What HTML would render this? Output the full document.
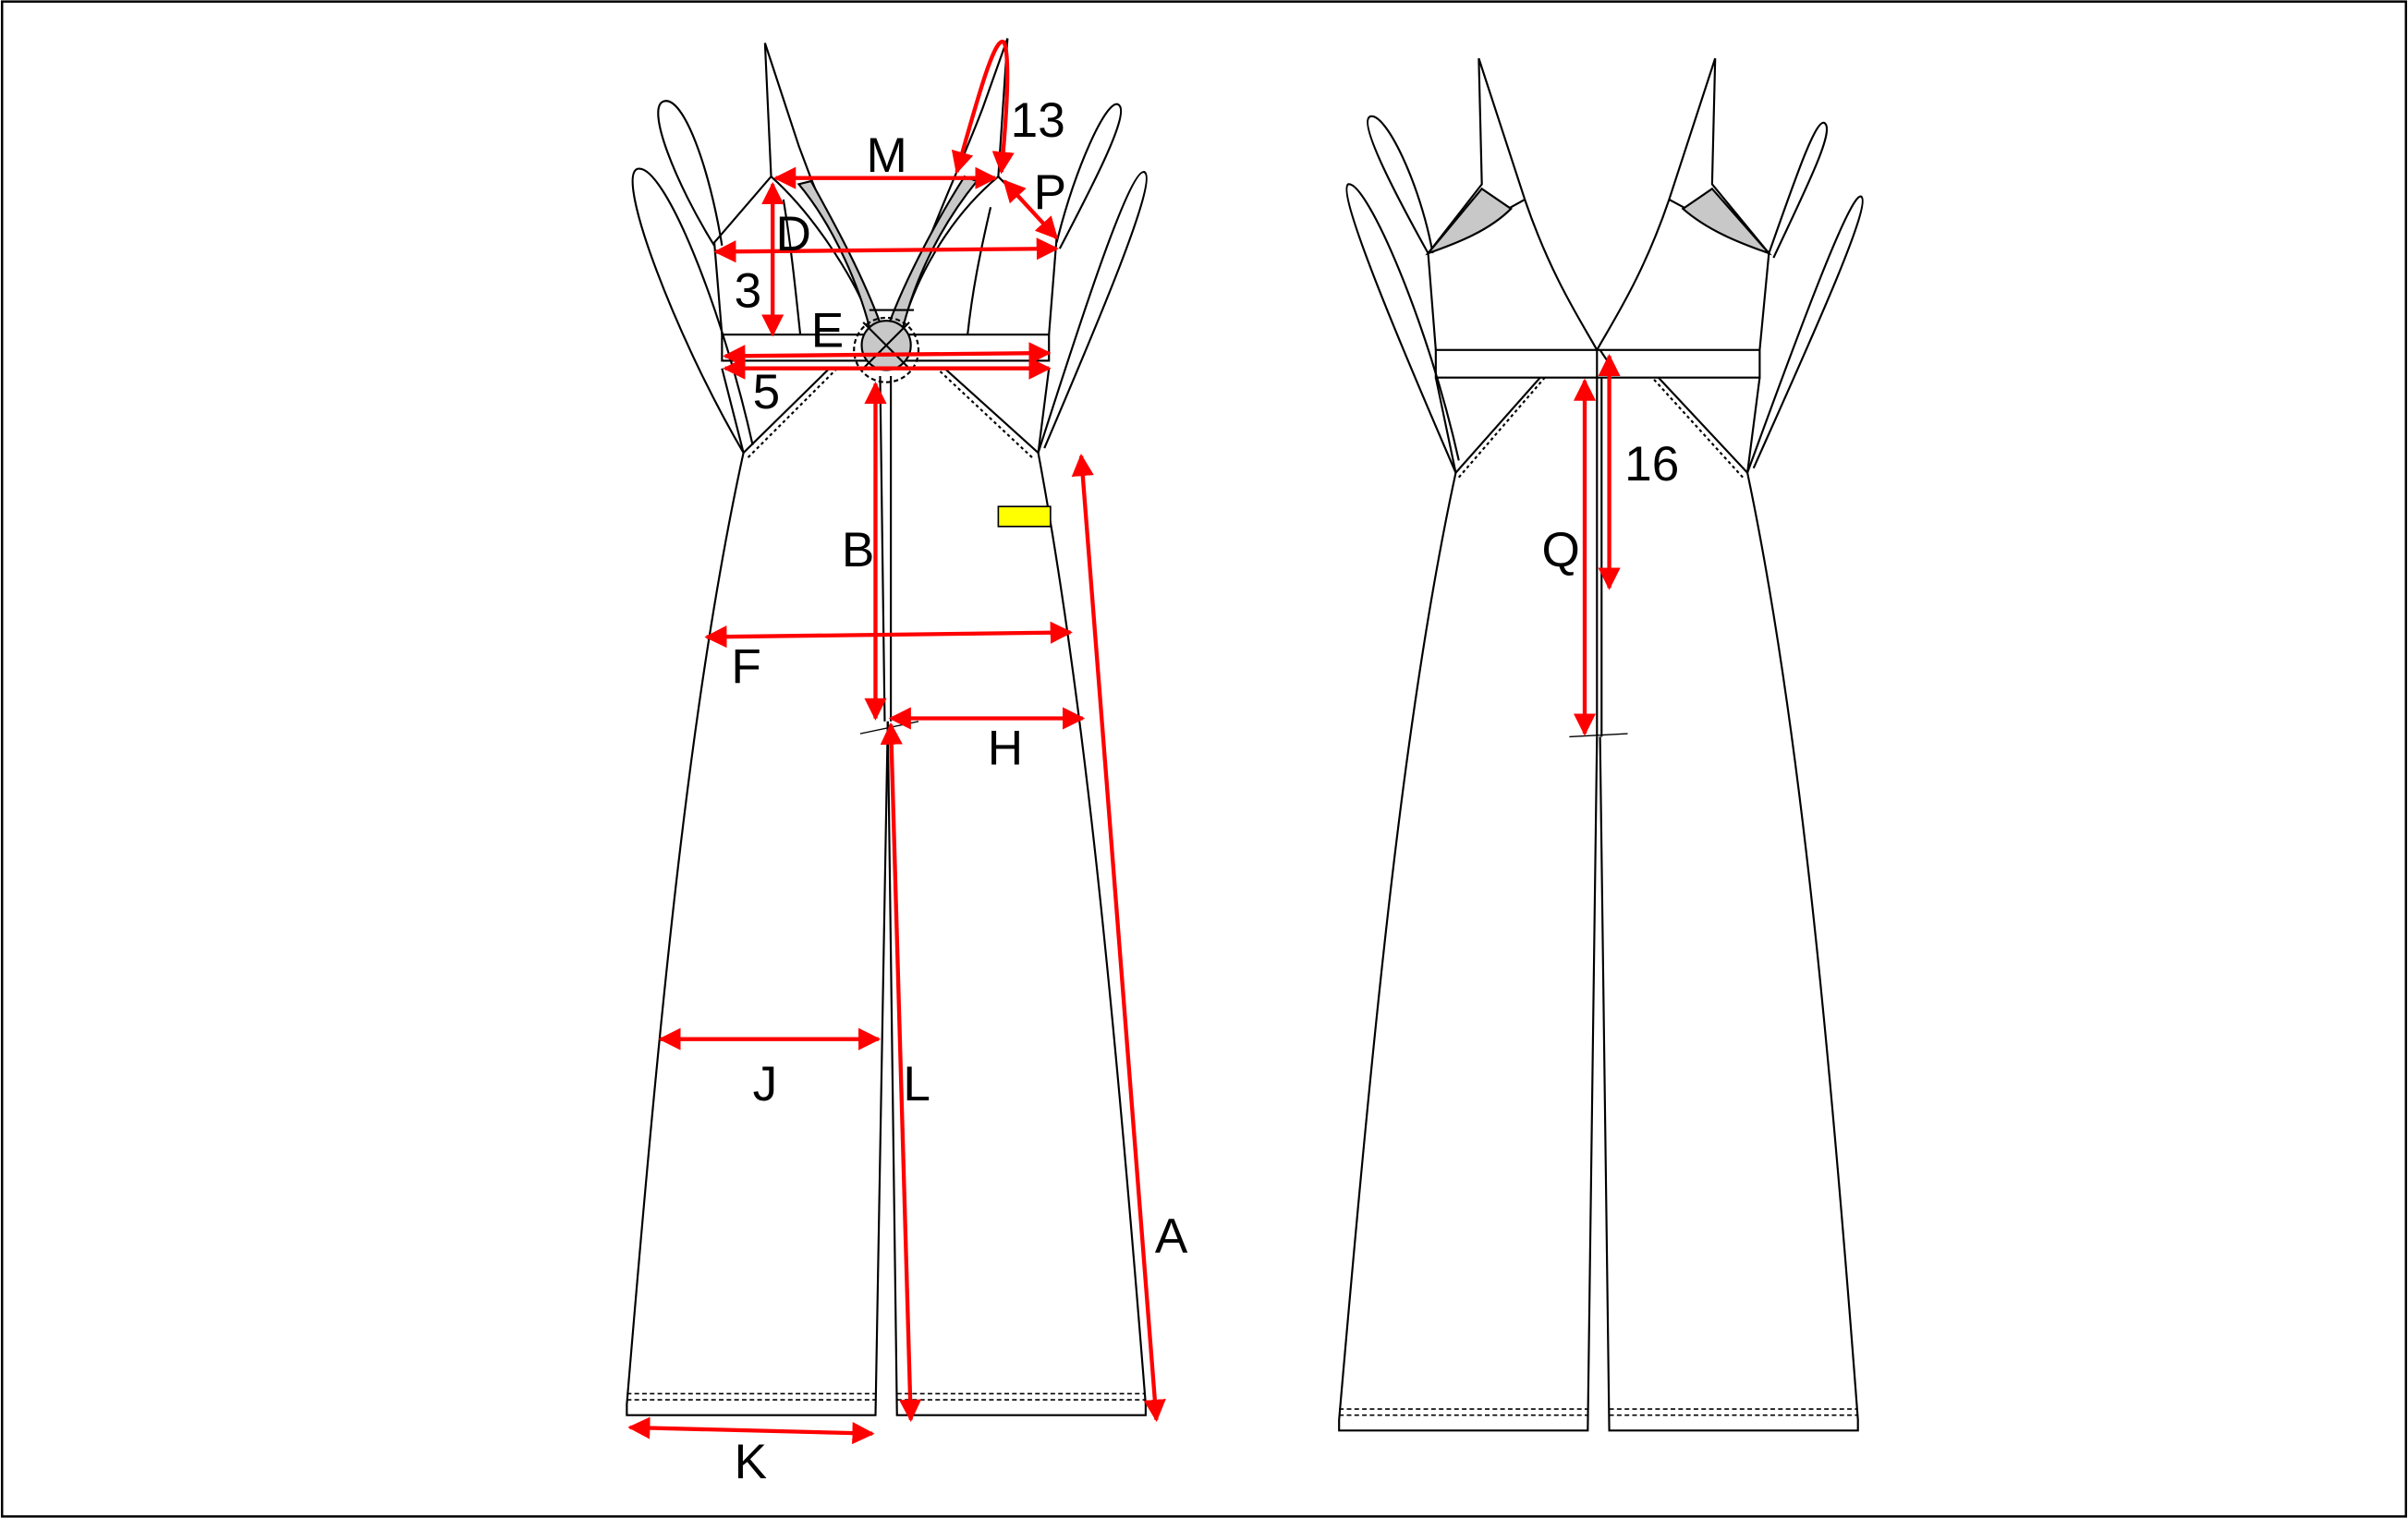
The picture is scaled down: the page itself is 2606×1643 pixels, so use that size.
<!DOCTYPE html>
<html><head><meta charset="utf-8"><style>
html,body{margin:0;padding:0;background:#fff;}
svg{display:block;}
text{font-family:"Liberation Sans",sans-serif;font-size:32px;fill:#000;}
</style></head><body>
<svg width="2606" height="1643" viewBox="0 0 1568 989" xmlns="http://www.w3.org/2000/svg">
<defs>
<marker id="a" viewBox="0 0 10 10" refX="9" refY="5" markerWidth="5.6" markerHeight="5.6" orient="auto-start-reverse" markerUnits="strokeWidth"><path d="M0,0 L10,5 L0,10 z" fill="#f00"/></marker>
</defs>
<rect x="1" y="1" width="1566" height="987" fill="#fff" stroke="#000" stroke-width="1.5"/>
<g fill="none" stroke="#000" stroke-width="1.3">
<!-- FRONT -->
<path d="M465,160 C440,120 420,70 432,66 C445,62 462,110 470,160"/>
<path d="M484,295 C440,220 400,115 415,110 C432,106 470,200 490,290"/>
<path d="M688,158 C700,110 720,65 728,68 C737,72 712,120 690,162"/>
<path d="M676,295 C700,220 735,110 745,112 C755,116 715,210 680,292"/>
<path d="M498,28 L502,115 L465,158 L470,218"/>
<path d="M498,28 L520,95 C540,150 560,190 572,215"/>
<path d="M656,25 L650,115 L688,155 L683,218"/>
<path d="M656,25 L640,70 C625,110 600,160 585,215"/>
<path d="M502,115 C530,140 555,180 565,205" />
<path d="M650,115 C620,140 600,175 590,205" />
<path d="M520,120 C545,150 560,190 566,213 L574,213 C560,175 540,140 528,118 Z" fill="#c8c8c8"/>
<path d="M636,118 C610,150 595,185 588,213 L578,213 C590,180 612,140 628,115 Z" fill="#c8c8c8"/>
<path d="M510,130 C515,160 518,190 521,218"/>
<path d="M645,135 C638,165 633,190 630,218"/>
<rect x="470" y="218" width="213" height="17" fill="none"/>
<path d="M566,202 L595,202"/>
<circle cx="577" cy="225" r="16" fill="#c8c8c8"/>
<circle cx="577" cy="228" r="21" stroke-dasharray="3,2"/>
<path d="M562,210 L592,240 M592,210 L562,240"/>
<path d="M470,240 L484,295 L540,240 M683,240 L676,295 L615,240"/>
<path d="M487,298 L545,240 M672,298 L610,240" stroke-dasharray="2,2"/>
<path d="M484,295 C450,450 430,650 408,915 L408,922 L570,922 L578,470"/>
<path d="M676,295 C705,450 725,650 746,915 L746,922 L584,922 L578,470"/>
<path d="M408,908 L570,908 M408,912 L570,912 M584,908 L746,908 M584,912 L746,912" stroke-dasharray="3,2" stroke-width="1"/>
<path d="M573,245 L576,470 M580,245 L580,470"/>
<path d="M560,478 L598,470" stroke-width="0.8"/>
<!-- BACK -->
<path d="M930,165 C905,120 885,80 892,76 C902,72 925,120 933,165"/>
<path d="M948,308 C910,220 870,125 878,120 C890,118 930,210 950,300"/>
<path d="M1152,165 C1168,120 1182,78 1188,80 C1196,84 1175,125 1155,168"/>
<path d="M1138,308 C1170,220 1205,125 1212,128 C1220,132 1180,220 1142,305"/>
<path d="M963,38 L965,120 L930,165 L935,228 M963,38 L993,130 C1010,180 1030,210 1040,228"/>
<path d="M1117,38 L1115,120 L1152,165 L1146,228 M1117,38 L1087,130 C1070,180 1050,210 1040,228"/>
<path d="M993,130 L930,165 M1087,130 L1152,165"/>
<path d="M965,123 L930,165 C950,158 970,150 984,136 Z" fill="#c8c8c8"/>
<path d="M1115,123 L1152,165 C1132,158 1112,150 1096,136 Z" fill="#c8c8c8"/>
<rect x="935" y="228" width="211" height="18"/>
<path d="M1040,228 L1040,246"/>
<path d="M1042,228 L1050,240"/>
<path d="M935,246 L948,308 L1003,246 M1146,246 L1138,308 L1080,246"/>
<path d="M950,311 L1006,246 M1135,311 L1076,246" stroke-dasharray="2,2"/>
<path d="M948,308 C915,460 895,660 872,925 L872,932 L1034,932 L1040,480"/>
<path d="M1138,308 C1170,460 1190,660 1210,925 L1210,932 L1048,932 L1042,480"/>
<path d="M872,918 L1034,918 M872,922 L1034,922 M1048,918 L1210,918 M1048,922 L1210,922" stroke-dasharray="3,2" stroke-width="1"/>
<path d="M1040,246 L1040,480 M1043,246 L1043,480"/>
<path d="M1022,480 L1060,478" stroke-width="0.8"/>
</g>
<rect x="650" y="330" width="34" height="13" fill="#ff0" stroke="#000" stroke-width="1"/>
<g stroke="#f00" stroke-width="2.6" fill="none" marker-start="url(#a)" marker-end="url(#a)">
<line x1="505" y1="116" x2="648" y2="116"/>
<line x1="654" y1="118" x2="688" y2="155"/>
<line x1="466" y1="164" x2="688" y2="162"/>
<line x1="503" y1="120" x2="503" y2="218"/>
<line x1="472" y1="232" x2="683" y2="230"/>
<line x1="472" y1="240" x2="683" y2="240"/>
<line x1="570" y1="250" x2="570" y2="468"/>
<line x1="460" y1="415" x2="697" y2="412"/>
<line x1="580" y1="468" x2="705" y2="468"/>
<line x1="430" y1="677" x2="572" y2="677"/>
<line x1="580" y1="472" x2="593" y2="925"/>
<line x1="704" y1="297" x2="753" y2="925"/>
<line x1="410" y1="930" x2="568" y2="934"/>
<line x1="1048" y1="232" x2="1048" y2="383"/>
<line x1="1032" y1="248" x2="1032" y2="478"/>
</g>
<path d="M623,112 C635,70 648,20 654,28 C658,40 655,80 652,112" stroke="#f00" stroke-width="2.6" fill="none" marker-start="url(#a)" marker-end="url(#a)"/>
<text x="564" y="112">M</text>
<text x="658" y="89">13</text>
<text x="673" y="136">P</text>
<text x="505" y="163">D</text>
<text x="478" y="200">3</text>
<text x="528" y="226">E</text>
<text x="490" y="266">5</text>
<text x="548" y="369">B</text>
<text x="476" y="445">F</text>
<text x="643" y="498">H</text>
<text x="490" y="717">J</text>
<text x="588" y="717">L</text>
<text x="752" y="816">A</text>
<text x="478" y="963">K</text>
<text x="1058" y="313">16</text>
<text x="1004" y="369">Q</text>
</svg>
</body></html>
